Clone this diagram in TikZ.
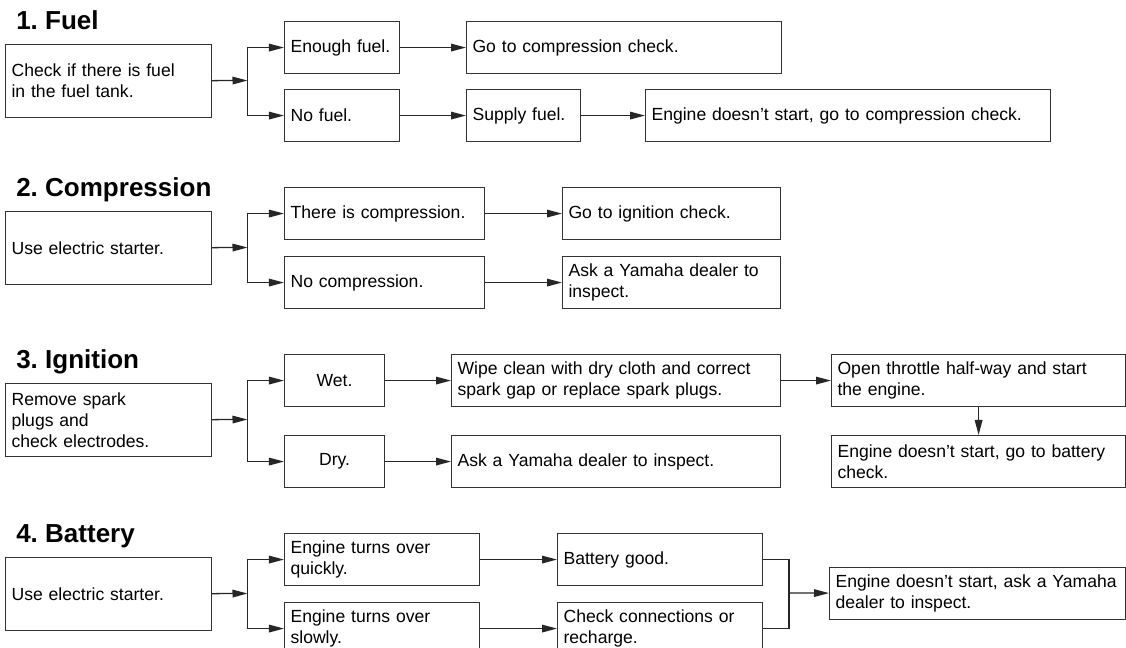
\documentclass[tikz,border=0pt]{standalone}
\usepackage{fontspec}
\setmainfont{Liberation Sans}
\usetikzlibrary{arrows.meta}
\frenchspacing

\begin{document}
\begin{tikzpicture}[x=0.025cm,y=-0.025cm,
    >={Triangle[length=0.375cm,width=0.19cm]},
    box/.style={draw=black!80,line width=0.8pt,anchor=north west,align=left,
      inner xsep=0.15cm,inner ysep=0pt,minimum height=1.3cm,
      font=\fontsize{12.5}{14.8}\selectfont},
    startbox/.style={box,minimum height=1.825cm,text width=4.85cm},
    title/.style={anchor=base west,inner sep=0pt,font=\fontsize{18.5}{20}\selectfont\bfseries},
    link/.style={line width=0.9pt,draw=black!85}]
  \path[use as bounding box] (0,0) rectangle (1126,648);
  \clip (0,0) rectangle (1126,648);

  % 1. fuel
  \node[title] (fueltitle) at (16,30) {1. Fuel};
  \node[startbox] (fuel) at (5,44) {Check if there is fuel\\in the fuel tank.};
  \node[box,text width=2.575cm] (enough) at (284,21) {Enough fuel.};
  \node[box,text width=2.575cm] (nofuel) at (284,89) {No fuel.};
  \node[box,text width=7.575cm] (gocomp) at (466,21) {Go to compression check.};
  \node[box,text width=2.55cm] (supply) at (466,89) {Supply fuel.};
  \node[box,text width=9.825cm] (nostart1) at (645,89) {Engine doesn’t start, go to compression check.};
  \coordinate (b1) at (247.5,80.5);
  \draw[link,->] (fuel) -- (b1);
  \draw[link,->] (b1) |- (enough);
  \draw[link,->] (b1) |- (nofuel);
  \draw[link,->] (enough) -- (gocomp);
  \draw[link,->] (nofuel) -- (supply);
  \draw[link,->] (supply) -- (nostart1);

  % 2. compression
  \node[title] (comptitle) at (16,197) {2. Compression};
  \node[startbox] (comp) at (5,211) {Use electric starter.};
  \node[box,text width=4.7cm] (iscomp) at (284,187) {There is compression.};
  \node[box,text width=4.7cm] (nocomp) at (284,256) {No compression.};
  \node[box,text width=5.15cm] (goign) at (562,187) {Go to ignition check.};
  \node[box,text width=5.15cm] (dealer2) at (562,256) {Ask a Yamaha dealer to\\inspect.};
  \coordinate (b2) at (247.5,247.5);
  \draw[link,->] (comp) -- (b2);
  \draw[link,->] (b2) |- (iscomp);
  \draw[link,->] (b2) |- (nocomp);
  \draw[link,->] (iscomp) -- (goign);
  \draw[link,->] (nocomp) -- (dealer2);

  % 3. ignition
  \node[title] (igntitle) at (16,369) {3. Ignition};
  \node[startbox] (spark) at (5,383) {Remove spark\\plugs and\\check electrodes.};
  \node[box,text width=2.2cm,align=center] (wet) at (284,354) {Wet.};
  \node[box,text width=2.2cm,align=center] (dry) at (284,435) {Dry.};
  \node[box,text width=7.925cm] (wipe) at (451,354) {Wipe clean with dry cloth and correct\\spark gap or replace spark plugs.};
  \node[box,text width=7.925cm] (dealer3) at (451,435) {Ask a Yamaha dealer to inspect.};
  \node[box,text width=7.05cm] (throttle) at (831,354) {Open throttle half-way and start\\the engine.};
  \node[box,text width=7.05cm] (nostart3) at (831,435) {Engine doesn’t start, go to battery\\check.};
  \coordinate (b3) at (247.5,419.5);
  \draw[link,->] (spark) -- (b3);
  \draw[link,->] (b3) |- (wet);
  \draw[link,->] (b3) |- (dry);
  \draw[link,->] (wet) -- (wipe);
  \draw[link,->] (dry) -- (dealer3);
  \draw[link,->] (wipe) -- (throttle);
  \draw[link,->] (throttle) -- (nostart3);

  % 4. battery
  \node[title] (battitle) at (16,542) {4. Battery};
  \node[startbox] (starter) at (5,557) {Use electric starter.};
  \node[box,text width=4.575cm] (quick) at (284,533) {Engine turns over\\quickly.};
  \node[box,text width=4.575cm] (slow) at (284,602) {Engine turns over\\slowly.};
  \node[box,text width=4.825cm] (good) at (557,533) {Battery good.};
  \node[box,text width=4.825cm] (recharge) at (557,602) {Check connections or\\recharge.};
  \node[box,text width=7.1cm] (dealer4) at (829,567) {Engine doesn’t start, ask a Yamaha\\dealer to inspect.};
  \coordinate (b4) at (247.5,593.5);
  \coordinate (m4) at (789,593);
  \draw[link,->] (starter) -- (b4);
  \draw[link,->] (b4) |- (quick);
  \draw[link,->] (b4) |- (slow);
  \draw[link,->] (quick) -- (good);
  \draw[link,->] (slow) -- (recharge);
  \draw[link] (good) -| (m4);
  \draw[link] (recharge) -| (m4);
  \draw[link,->] (m4) -- (dealer4);
\end{tikzpicture}
\end{document}
